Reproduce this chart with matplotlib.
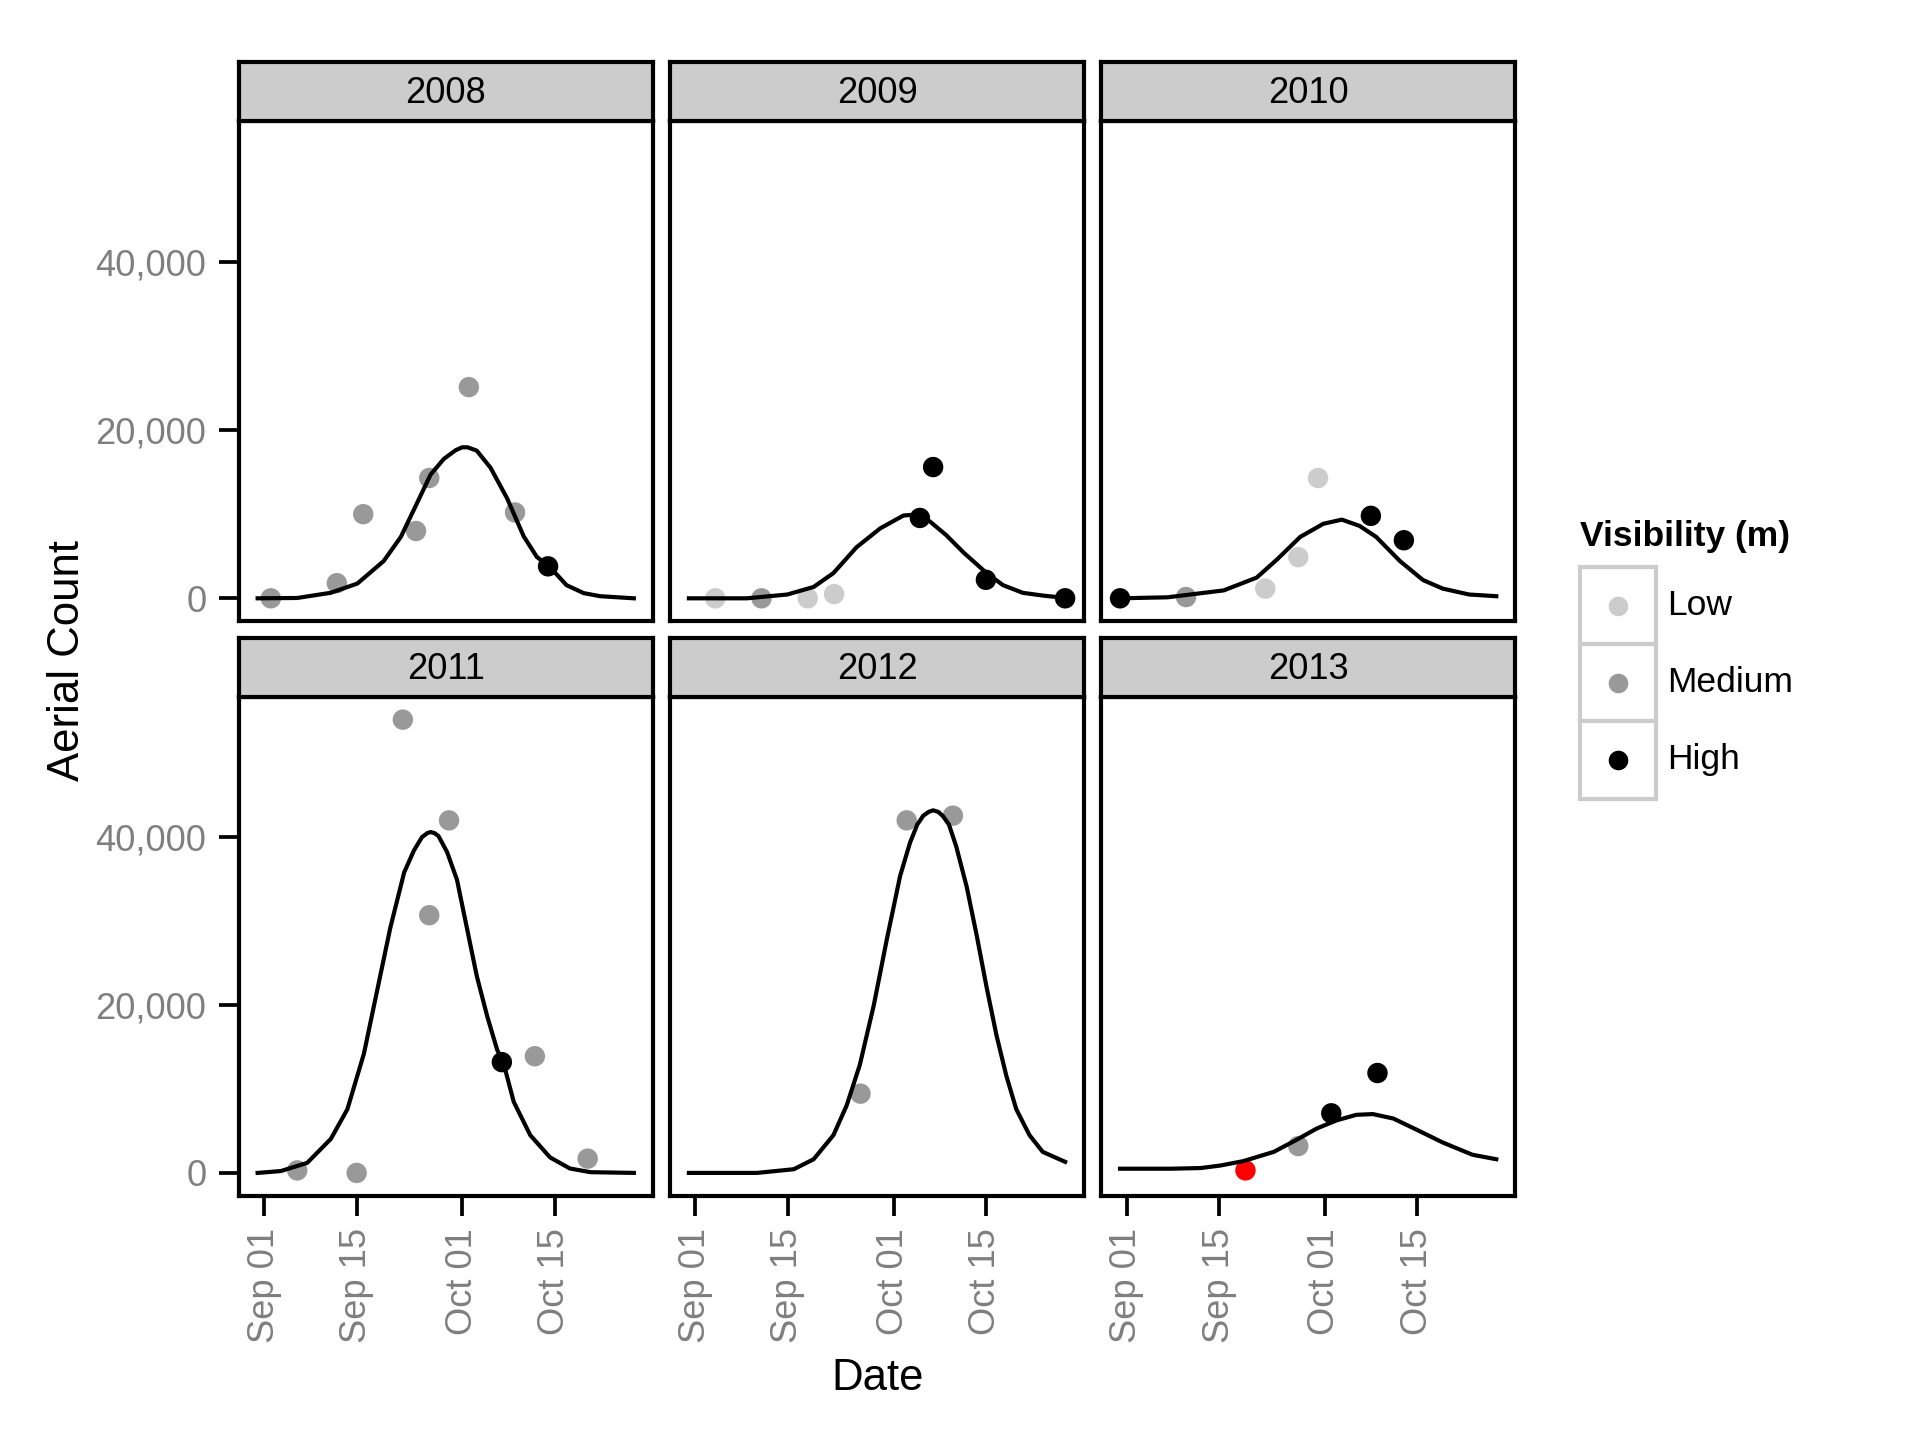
import matplotlib
matplotlib.use('Agg')
import matplotlib.pyplot as plt
from matplotlib.patches import Rectangle
from matplotlib.lines import Line2D
from matplotlib.ticker import FuncFormatter

plt.rcParams['font.family'] = ['Liberation Sans', 'DejaVu Sans']

# ---------------- data (days counted from Sep 01) ----------------
years = [2008, 2009, 2010, 2011, 2012, 2013]
vis_levels = ['Low', 'Medium', 'High']

obs_day_2008 = [1, 11, 15, 23, 25, 31, 38, 43]
obs_count_2008 = [0, 1800, 10000, 8000, 14300, 25100, 10200, 3800]
obs_vis_2008 = ['Medium', 'Medium', 'Medium', 'Medium', 'Medium', 'Medium', 'Medium', 'High']
curve_day_2008 = [-1, 5, 10.1, 14.1, 18.1, 20.7, 23.2, 25.2, 27.2, 29, 30.0, 30.8, 32.2, 34.3, 36.8, 39.3, 41.3, 43.3, 45.8, 48.4, 50.9, 56]
curve_count_2008 = [0, 40, 660, 1750, 4430, 7300, 11400, 14700, 16560, 17600, 17950, 17950, 17550, 15500, 11880, 7380, 4920, 3700, 1560, 615, 250, 0]

obs_day_2009 = [3, 10, 17, 21, 34, 36, 44, 56]
obs_count_2009 = [0, 0, 0, 500, 9550, 15600, 2200, 0]
obs_vis_2009 = ['Low', 'Medium', 'Low', 'Low', 'High', 'High', 'High', 'High']
curve_day_2009 = [-1, 7.8, 13.9, 17.9, 20.9, 24.4, 28.0, 31.5, 33.5, 35.5, 38.0, 40.6, 44.1, 46.6, 49.6, 52.6, 56]
curve_count_2009 = [0, 0, 450, 1350, 3000, 6070, 8320, 9840, 9960, 9140, 7500, 5450, 3000, 1560, 650, 330, 40]

obs_day_2010 = [-1, 9, 21, 26, 29, 37, 42]
obs_count_2010 = [0, 150, 1150, 4900, 14300, 9800, 6900]
obs_vis_2010 = ['High', 'Medium', 'Low', 'Low', 'Low', 'High', 'High']
curve_day_2010 = [-1, 6.2, 14.7, 19.7, 22.8, 26.3, 29.8, 32.6, 35.3, 37.8, 41.4, 44.9, 47.9, 51.9, 56]
curve_count_2010 = [0, 120, 940, 2460, 4630, 7300, 8860, 9350, 8600, 7300, 4430, 2170, 1150, 450, 250]

obs_day_2011 = [5, 14, 21, 25, 28, 36, 41, 49]
obs_count_2011 = [300, 0, 54000, 30700, 42000, 13200, 13900, 1700]
obs_vis_2011 = ['Medium', 'Medium', 'Medium', 'Medium', 'Medium', 'High', 'Medium', 'Medium']
curve_day_2011 = [-1, 2.5, 6.5, 10.1, 12.6, 15.1, 17.1, 19.1, 21.2, 22.7, 23.9, 24.7, 25.2, 25.8, 26.4, 27.7, 29.2, 30.7, 32.2, 33.8, 35.3, 36.2, 37.8, 40.3, 43.3, 46.3, 49.4, 56]
curve_count_2011 = [0, 220, 1190, 4060, 7590, 14200, 21700, 29200, 35800, 38450, 40000, 40480, 40610, 40480, 40130, 38230, 34930, 29200, 23460, 18610, 14640, 13230, 8470, 4500, 1850, 530, 90, 0]

obs_day_2012 = [25, 32, 39]
obs_count_2012 = [9440, 42000, 42560]
obs_vis_2012 = ['Medium', 'Medium', 'Medium']
curve_day_2012 = [-1, 9.3, 14.9, 17.9, 20.9, 22.9, 24.9, 27.0, 29.0, 31.0, 32.5, 33.6, 34.5, 35.3, 36.0, 36.8, 37.5, 38.4, 39.5, 41.1, 42.6, 44.1, 45.6, 47.1, 48.6, 50.6, 52.6, 56]
curve_count_2012 = [0, 0, 440, 1630, 4500, 8030, 12880, 19930, 27870, 35370, 39340, 41500, 42550, 43000, 43200, 43000, 42500, 41500, 38900, 34050, 28310, 22140, 16400, 11550, 7590, 4500, 2510, 1320]

obs_day_2013 = [18, 26, 31, 38]
obs_count_2013 = [300, 3200, 7100, 11900]
obs_vis_2013 = ['NA', 'Medium', 'High', 'High']
curve_day_2013 = [-1, 6.7, 11.2, 14.2, 17.7, 22.3, 25.8, 28.8, 31.8, 34.8, 37.3, 40.4, 43.9, 47.9, 52.4, 56]
curve_count_2013 = [500, 500, 580, 880, 1410, 2510, 3970, 5290, 6260, 6920, 7010, 6480, 5160, 3620, 2160, 1630]

x_tick_days = [0, 14, 30, 44]
x_tick_labels = ['Sep 01', 'Sep 15', 'Oct 01', 'Oct 15']
y_ticks = [0, 20000, 40000]

obs_days = [obs_day_2008, obs_day_2009, obs_day_2010, obs_day_2011, obs_day_2012, obs_day_2013]
obs_counts = [obs_count_2008, obs_count_2009, obs_count_2010, obs_count_2011, obs_count_2012, obs_count_2013]
obs_vis = [obs_vis_2008, obs_vis_2009, obs_vis_2010, obs_vis_2011, obs_vis_2012, obs_vis_2013]
curve_days = [curve_day_2008, curve_day_2009, curve_day_2010, curve_day_2011, curve_day_2012, curve_day_2013]
curve_counts = [curve_count_2008, curve_count_2009, curve_count_2010, curve_count_2011, curve_count_2012, curve_count_2013]

vis_colors = {'Low': '#CCCCCC', 'Medium': '#999999', 'High': '#000000', 'NA': '#FF0000'}

# ---------------- scales (ggplot-like 5% expansion) ----------------
all_x = [d for l in obs_days + curve_days for d in l]
all_y = [v for l in obs_counts + curve_counts for v in l]
xr = max(all_x) - min(all_x)
yr = max(all_y) - min(all_y)
xlim = (min(all_x) - 0.05 * xr, max(all_x) + 0.05 * xr)
ylim = (min(all_y) - 0.05 * yr, max(all_y) + 0.05 * yr)

# ---------------- layout ----------------
W, H = 1920, 1440
S = 0.9889
fig = plt.figure(figsize=(6.4, 4.8), dpi=300)
fig.patch.set_facecolor('white')

def fx(px):
    return px * S / W

def fy(py):
    return 1 - py * S / H

col_left = [241.5, 677.6, 1113.6]
panel_w = 418.5
row_top = [122.6, 704.8]
row_bot = [628.0, 1209.0]
strip_h = 59.4

lw_border = 1.0
tick_col = '#7F7F7F'

for i, yr_ in enumerate(years):
    r, c = divmod(i, 3)
    ax = fig.add_axes([fx(col_left[c]), fy(row_bot[r]), fx(panel_w), (row_bot[r] - row_top[r]) * S / H])
    cols = [vis_colors[v] for v in obs_vis[i]]
    ax.scatter(obs_days[i], obs_counts[i], c=cols, s=24, linewidths=0, zorder=2)
    ax.plot(curve_days[i], curve_counts[i], color='black', lw=1.0, zorder=3,
            solid_joinstyle='round')
    ax.set_xlim(*xlim)
    ax.set_ylim(*ylim)
    for sp in ax.spines.values():
        sp.set_linewidth(lw_border)
        sp.set_color('black')
    ax.set_xticks(x_tick_days)
    ax.set_xticklabels(x_tick_labels, rotation=90)
    ax.set_yticks(y_ticks)
    ax.yaxis.set_major_formatter(FuncFormatter(lambda v, p: f'{int(v):,}'))
    ax.tick_params(direction='out', length=4.8, width=0.9, color='black',
                   labelcolor=tick_col, labelsize=8.7, pad=3)
    if r == 0:
        ax.tick_params(axis='x', length=0, labelbottom=False)
    if c != 0:
        ax.tick_params(axis='y', length=0, labelleft=False)

    sax = fig.add_axes([fx(col_left[c]), fy(row_top[r]), fx(panel_w), strip_h * S / H])
    sax.set_facecolor('#CCCCCC')
    sax.set_xticks([])
    sax.set_yticks([])
    for sp in sax.spines.values():
        sp.set_linewidth(lw_border)
        sp.set_color('black')
    sax.text(0.5, 0.47, str(yr_), ha='center', va='center', fontsize=8.7, color='black',
             transform=sax.transAxes)

fig.text(fx(68), fy(668), 'Aerial Count', rotation=90, ha='center', va='center', fontsize=10.5)
fig.text(fx(887), fy(1393.5), 'Date', ha='center', va='center', fontsize=10.5)

# ---------------- legend ----------------
fig.text(fx(1598), fy(542.6), 'Visibility (m)', ha='left', va='center', fontsize=8.5, fontweight='bold')
key_top = 573.5
key_h = 78.0
key_left = 1598.0
key_w = 77.0
for k, lev in enumerate(vis_levels):
    top = key_top + k * key_h
    fig.add_artist(Rectangle((fx(key_left), fy(top + key_h)), fx(key_w), key_h * S / H,
                             transform=fig.transFigure, facecolor='white',
                             edgecolor='#CCCCCC', lw=1.0))
    cy = top + key_h / 2
    fig.add_artist(Line2D([fx(key_left + key_w / 2)], [fy(cy)], transform=fig.transFigure,
                          marker='o', markersize=4.7, markeredgewidth=0,
                          markerfacecolor=vis_colors[lev], linestyle='none'))
    fig.text(fx(1686), fy(cy), lev, ha='left', va='center', fontsize=8.5)

fig.savefig('out.png', dpi=300, facecolor='white')
